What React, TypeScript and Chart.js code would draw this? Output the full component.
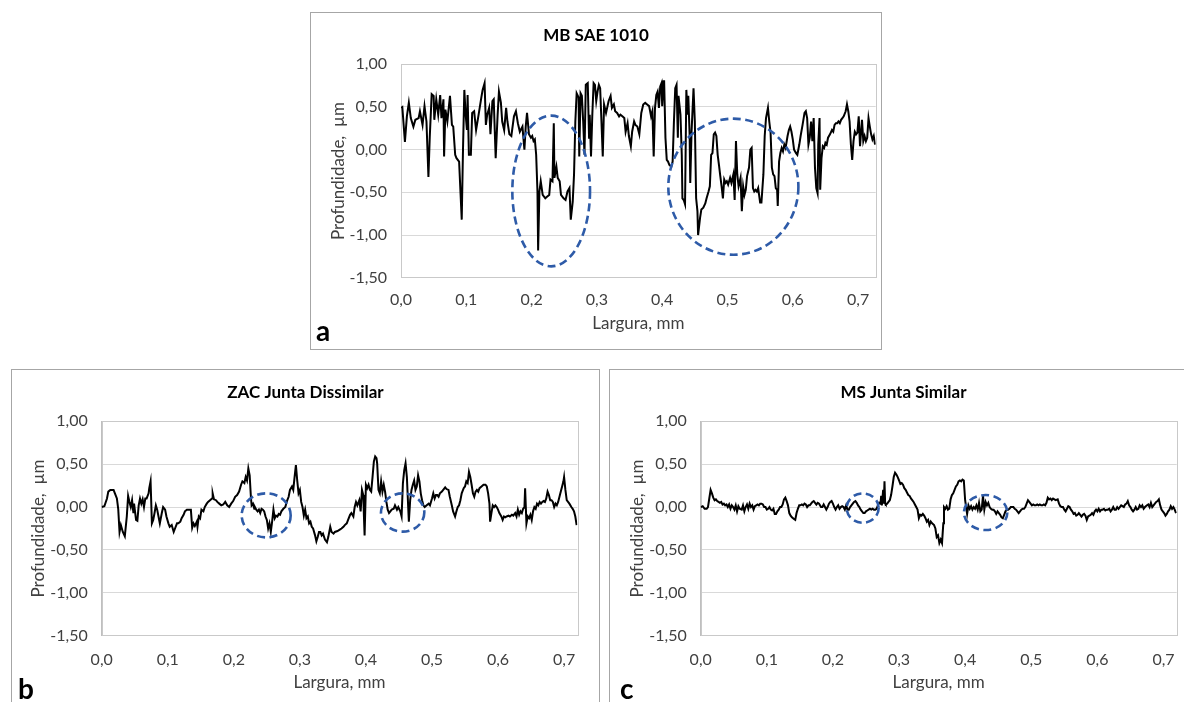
import React, { useEffect, useRef } from "react";
import { Chart, registerables } from "chart.js";

Chart.register(...registerables);

const FONT = "Lato, 'Open Sans', sans-serif";

// ---------------- data (width in mm, depth in µm) ----------------
const mbWidth = [
  0,0.002,0.006,0.009,0.012,0.015,0.019,0.022,0.027,0.029,
  0.033,0.036,0.039,0.042,0.044,0.047,0.050,0.051,0.054,0.057,
  0.060,0.062,0.065,0.066,0.068,0.071,0.075,0.078,0.080,0.083,
  0.085,0.089,0.093,0.095,0.097,0.099,0.101,0.102,0.104,0.107,
  0.109,0.112,0.115,0.118,0.123,0.125,0.128,0.130,0.132,0.135,
  0.137,0.140,0.142,0.145,0.148,0.150,0.153,0.155,0.158,0.161,
  0.163,0.166,0.169,0.173,0.176,0.179,0.182,0.186,0.189,0.191,
  0.193,0.196,0.199,0.201,0.203,0.205,0.207,0.209,0.210,0.212,
  0.214,0.217,0.221,0.224,0.227,0.229,0.232,0.234,0.235,0.238,
  0.240,0.243,0.245,0.249,0.252,0.255,0.258,0.260,0.263,0.265,
  0.267,0.269,0.272,0.273,0.275,0.277,0.279,0.281,0.283,0.286,
  0.288,0.289,0.291,0.293,0.295,0.297,0.299,0.301,0.303,0.305,
  0.307,0.309,0.311,0.314,0.318,0.321,0.323,0.326,0.328,0.331,
  0.334,0.336,0.339,0.342,0.344,0.347,0.349,0.352,0.354,0.357,
  0.359,0.362,0.365,
  0.368,0.371,0.374,0.377,0.380,0.383,0.385,0.387,0.389,0.391,
  0.393,0.395,0.397,0.399,0.400,0.402,0.403,0.405,0.407,0.409,
  0.411,0.414,0.416,0.418,0.420,0.422,0.424,0.425,0.428,0.430,
  0.431,0.433,0.435,0.437,0.439,0.440,0.442,0.443,0.445,0.448,
  0.450,0.452,0.454,0.455,0.458,0.460,0.463,0.466,0.468,0.471,
  0.473,0.475,0.477,0.479,0.481,0.483,0.485,0.487,0.489,0.491,
  0.493,0.495,0.497,0.499,0.501,0.504,0.506,0.509,0.511,0.513,
  0.515,0.517,0.520,0.522,0.524,0.526,0.528,0.530,0.533,0.535,
  0.537,0.539,0.541,0.543,0.545,0.547,0.550,0.552,0.555,0.557,
  0.559,0.562,0.564,0.566,0.568,0.570,0.572,0.574,0.576,0.577,
  0.579,0.581,0.583,0.585,0.587,0.589,0.592,0.594,0.596,0.598,
  0.600,0.602,0.605,0.607,0.610,0.612,0.615,0.618,0.620,0.622,
  0.624,0.626,0.628,0.630,0.632,0.634,0.636,0.638,0.639,0.641,
  0.642,0.644,0.646,0.648,0.650,0.652,0.654,0.657,0.660,0.662,
  0.664,0.666,0.668,0.670,0.672,0.674,0.676,0.678,0.681,0.683,
  0.685,0.687,0.689,0.691,0.693,0.695,0.697,0.699,0.701,0.703,
  0.706,0.708,0.710,0.712,0.714,0.716,0.718,0.720,0.722,0.724,
  0.726,
];
const mbDepth = [
  0.49,0.50,0.09,0.39,0.55,0.37,0.27,0.35,0.37,0.45,
  0.29,0.51,0.33,-0.32,0.14,0.65,0.63,0.35,0.59,0.41,
  0.64,0.37,0.59,-0.08,0.47,0.33,0.63,0.29,0.27,-0.06,
  -0.10,-0.14,-0.82,0.02,0.70,0.41,0.23,0.64,-0.06,-0.06,
  0.43,0.45,0.23,0.37,0.61,0.70,0.78,0.29,0.41,0.49,
  0.18,0.57,0.59,-0.10,0.41,0.68,0.55,0.33,0.23,0.49,
  0.33,0.18,0.16,0.39,0.45,0.31,0.21,0.27,0.00,0.27,
  0.43,0.18,0.14,0.16,0.10,0.12,-0.06,-0.49,-1.18,-0.49,
  -0.37,-0.53,-0.57,-0.55,-0.53,-0.35,-0.37,0.31,-0.33,-0.20,
  -0.33,-0.37,-0.53,-0.57,-0.59,-0.49,-0.45,-0.82,-0.61,-0.29,
  0.33,0.66,0.61,-0.08,0.66,0.63,0.33,-0.06,0.76,0.78,
  0.14,0.41,-0.08,0.41,0.78,0.76,0.57,0.68,0.76,0.72,
  0.33,-0.08,0.53,0.43,0.57,0.63,0.49,0.53,0.45,0.43,
  0.39,0.41,0.39,0.37,0.21,0.31,0.16,0.04,0.21,0.33,
  0.29,0.27,0.18,
  0.43,0.53,0.55,0.53,0.51,0.39,0.45,-0.08,0.49,0.64,
  0.68,0.49,0.74,0.78,0.51,0.80,0.80,0.14,-0.12,-0.14,
  -0.18,-0.20,-0.14,0.33,0.72,0.76,0.14,0.63,0.41,-0.06,
  -0.57,-0.59,-0.64,0.70,0.41,0.63,0.18,-0.39,0.21,0.72,
  0.33,-0.57,-0.72,-1.00,-0.80,-0.70,-0.68,-0.63,-0.57,-0.49,
  -0.43,-0.06,-0.04,0.18,0.20,0.16,-0.06,-0.18,-0.31,-0.43,
  -0.57,-0.35,-0.39,-0.37,-0.41,-0.33,-0.39,-0.29,-0.59,0.10,
  -0.29,-0.43,-0.33,-0.72,-0.43,-0.53,-0.47,-0.31,-0.21,0.00,
  0.02,-0.45,-0.49,-0.47,-0.49,-0.45,-0.62,-0.62,-0.29,0.16,
  0.37,0.49,0.33,0.20,-0.21,-0.29,-0.31,-0.45,-0.47,-0.66,
  -0.14,-0.04,0.02,-0.02,0.06,0.02,0.16,0.23,0.27,0.21,
  0.12,0.00,-0.04,-0.06,0.06,0.16,0.29,0.43,0.45,0.37,
  0.06,0.14,0.33,0.10,0.37,-0.21,-0.45,-0.51,0.06,0.37,
  -0.47,-0.10,0.04,0.02,0.08,0.06,0.14,0.18,0.23,0.21,
  0.29,0.31,0.31,0.33,0.31,0.35,0.37,0.39,0.45,0.53,
  0.45,0.33,0.06,-0.12,0.10,0.21,0.18,0.20,0.39,0.04,
  0.35,0.10,0.16,0.10,0.14,0.37,0.27,0.18,0.12,0.16,
  0.06,
];

const zacWidth = [
  0,0.004,0.008,0.010,0.013,0.018,0.020,0.023,0.025,0.027,
  0.029,0.032,0.035,0.038,0.040,0.042,0.044,0.046,0.048,0.049,
  0.052,0.054,0.056,0.058,0.060,0.062,0.064,0.066,0.068,0.071,
  0.072,0.074,0.076,0.078,0.080,0.082,0.084,0.086,0.088,0.091,
  0.093,0.096,0.098,0.101,0.103,0.106,0.109,0.111,0.114,0.116,
  0.119,0.121,0.124,0.126,0.129,0.132,0.135,0.137,0.139,0.141,
  0.144,0.145,0.147,0.149,0.151,0.154,0.156,0.159,0.161,0.164,
  0.167,0.168,0.170,0.173,0.175,0.178,0.181,0.184,0.187,0.190,
  0.193,0.196,0.199,0.202,0.205,0.208,0.211,0.213,0.216,0.218,
  0.220,0.222,0.224,0.226,0.227,0.229,0.231,0.232,0.234,0.236,
  0.238,0.240,0.242,0.244,0.246,0.248,0.250,0.252,0.254,0.256,
  0.258,0.260,0.262,0.264,0.266,0.268,0.270,0.272,0.275,0.278,
  0.280,0.283,0.285,0.288,0.290,0.292,0.294,0.296,0.298,0.300,
  0.302,0.304,0.306,0.308,0.310,0.312,0.314,0.316,0.318,0.320,
  0.323,0.325,0.327,0.329,0.331,0.333,0.335,0.338,0.341,0.343,
  0.346,0.348,0.351,0.353,0.357,0.361,
  0.363,0.366,0.368,0.371,0.373,0.376,0.378,0.381,0.383,0.385,
  0.387,0.390,0.392,0.394,0.396,0.397,0.398,0.400,0.402,0.404,
  0.406,0.408,0.410,0.412,0.414,0.416,0.417,0.419,0.421,0.423,
  0.425,0.427,0.429,0.431,0.433,0.435,0.437,0.439,0.442,0.444,
  0.447,0.449,0.452,0.454,0.456,0.458,0.460,0.462,0.464,0.465,
  0.467,0.469,0.471,0.473,0.475,0.477,0.479,0.481,0.483,0.485,
  0.487,0.489,0.492,0.495,0.497,0.500,0.502,0.504,0.506,0.508,
  0.510,0.512,0.515,0.517,0.520,0.522,0.525,0.527,0.530,0.532,
  0.535,0.537,0.539,0.541,0.543,0.545,0.548,0.550,0.552,0.554,
  0.556,0.558,0.560,0.562,0.564,0.566,0.568,0.570,0.572,0.575,
  0.578,0.581,0.583,0.585,0.587,0.588,0.590,0.592,0.594,0.596,
  0.598,0.600,0.602,0.605,0.607,0.609,0.611,0.613,0.616,0.618,
  0.621,0.623,0.626,0.628,0.630,0.632,0.634,0.636,0.638,0.640,
  0.641,0.643,0.645,0.647,0.649,0.651,0.653,0.655,0.657,0.659,
  0.661,0.663,0.665,0.667,0.669,0.671,0.673,0.675,0.677,0.679,
  0.681,0.683,0.685,0.687,0.689,0.691,0.693,0.695,0.697,0.699,
  0.700,0.702,0.704,0.706,0.708,0.711,0.713,0.715,0.717,0.719,
];
const zacDepth = [
  0.00,0.01,0.10,0.18,0.20,0.20,0.16,0.10,-0.02,-0.29,
  -0.21,-0.29,-0.34,-0.11,0.13,0.06,0.00,0.08,-0.07,0.04,
  -0.15,-0.16,0.02,0.10,0.04,0.09,0.00,0.10,0.10,0.16,
  0.22,0.30,-0.19,-0.15,-0.07,0.02,-0.03,-0.11,-0.19,-0.07,
  0.00,-0.03,-0.11,-0.19,-0.23,-0.21,-0.29,-0.25,-0.19,-0.19,
  -0.17,-0.13,-0.09,-0.05,-0.03,-0.03,-0.03,-0.24,-0.19,-0.22,
  -0.17,-0.23,-0.11,-0.13,-0.03,-0.05,0.00,0.04,0.06,0.08,
  0.10,0.16,0.09,0.08,0.06,0.04,0.02,0.03,0.06,0.02,
  0.00,0.04,0.07,0.12,0.14,0.18,0.26,0.30,0.28,0.35,
  0.31,0.45,0.37,0.10,0.02,0.04,-0.02,0.00,-0.03,-0.05,
  -0.03,-0.07,-0.02,-0.03,-0.05,-0.11,-0.15,-0.25,-0.19,-0.29,
  -0.17,-0.03,-0.13,-0.10,-0.11,-0.08,-0.09,-0.05,-0.02,0.00,
  0.06,0.12,0.20,0.24,0.20,0.35,0.49,0.31,0.16,0.20,
  0.06,0.00,-0.10,-0.03,-0.13,-0.11,-0.19,-0.17,-0.23,-0.25,
  -0.33,-0.40,-0.35,-0.29,-0.29,-0.33,-0.31,-0.38,-0.41,-0.35,
  -0.23,-0.29,-0.31,-0.29,-0.28,-0.26,
  -0.25,-0.23,-0.21,-0.19,-0.15,-0.09,-0.07,-0.11,0.00,0.06,
  0.02,0.08,-0.05,0.20,0.14,-0.11,-0.33,0.26,0.22,0.26,
  0.20,0.18,0.35,0.53,0.59,0.57,0.51,0.20,0.16,0.30,
  0.18,0.26,0.18,0.06,-0.03,-0.07,-0.05,-0.03,-0.02,0.02,
  -0.03,0.00,-0.05,-0.11,0.28,0.43,0.51,0.35,0.00,-0.17,
  0.08,0.20,0.26,0.31,0.20,0.24,0.37,0.30,0.16,0.08,
  0.02,0.00,0.02,0.04,0.02,0.10,0.16,0.10,0.14,0.14,
  0.12,0.16,0.18,0.20,0.23,0.21,0.20,0.12,0.02,-0.05,
  -0.11,-0.05,0.00,0.02,0.08,0.16,0.22,0.24,0.30,0.28,
  0.41,0.35,0.26,0.16,0.12,0.18,0.20,0.18,0.22,0.24,
  0.26,0.26,0.24,0.16,0.04,-0.17,-0.07,0.02,0.00,0.02,
  0.00,-0.03,-0.07,-0.11,-0.15,-0.11,-0.12,-0.11,-0.10,-0.11,
  -0.09,-0.10,-0.07,-0.11,-0.03,-0.09,-0.05,-0.07,-0.02,0.00,
  0.22,-0.19,-0.11,-0.13,-0.09,-0.15,-0.05,0.00,-0.02,0.04,
  0.02,0.06,0.04,0.06,0.07,0.06,0.10,0.18,0.14,0.08,
  0.08,0.06,0.00,0.04,0.02,0.06,0.12,0.18,0.24,0.30,
  0.35,0.20,0.08,0.06,0.04,0.00,-0.02,-0.05,-0.11,-0.21,
];

const msWidth = [
  0,0.003,0.006,0.009,0.011,0.013,0.015,0.017,0.019,0.021,
  0.023,0.025,0.027,0.029,0.031,0.033,0.035,0.037,0.039,0.041,
  0.043,0.045,0.047,0.049,0.051,0.053,0.055,0.057,0.059,0.062,
  0.064,0.066,0.068,0.070,0.072,0.074,0.076,0.078,0.080,0.082,
  0.084,0.086,0.088,0.090,0.092,0.094,0.096,0.098,0.100,0.102,
  0.104,0.106,0.108,0.110,0.112,0.114,0.116,0.118,0.120,0.122,
  0.124,0.126,0.128,0.130,0.132,0.134,0.136,0.138,0.141,0.143,
  0.145,0.147,0.149,0.151,0.153,0.155,0.157,0.159,0.161,0.163,
  0.165,0.167,0.169,0.171,0.173,0.175,0.177,0.179,0.182,0.184,
  0.186,0.188,0.190,0.192,0.194,0.196,0.198,0.200,0.202,0.204,
  0.206,0.208,0.210,0.212,0.214,0.216,0.218,0.220,0.222,0.224,
  0.226,0.228,0.230,0.232,0.234,0.236,0.238,0.240,0.242,0.244,
  0.246,0.248,0.250,0.252,0.254,0.256,0.258,0.260,0.262,0.264,
  0.266,0.268,0.270,0.272,0.273,0.274,0.276,0.277,0.278,0.279,
  0.280,0.282,0.284,0.286,0.288,0.290,0.292,0.294,0.296,0.298,
  0.300,0.302,0.304,0.306,0.308,0.310,0.312,0.314,0.316,0.318,
  0.320,0.322,0.324,0.326,0.328,0.330,0.332,0.334,0.336,0.338,
  0.340,0.342,0.344,0.346,0.348,0.350,
  0.353,0.355,0.357,0.359,0.361,0.363,0.365,0.367,0.368,0.370,
  0.372,0.374,0.376,0.378,0.380,0.382,0.384,0.386,0.388,0.390,
  0.392,0.394,0.396,0.398,0.400,0.402,0.403,0.405,0.407,0.409,
  0.411,0.413,0.415,0.417,0.419,0.421,0.423,0.425,0.427,0.429,
  0.431,0.433,0.435,0.437,0.439,0.441,0.443,0.445,0.447,0.449,
  0.451,0.453,0.455,0.457,0.459,0.461,0.463,0.465,0.467,0.469,
  0.471,0.473,0.475,0.477,0.479,0.481,0.483,0.485,0.487,0.489,
  0.491,0.493,0.495,0.497,0.499,0.501,0.503,0.505,0.507,0.509,
  0.511,0.513,0.515,0.517,0.519,0.521,0.523,0.525,0.527,0.529,
  0.531,0.533,0.535,0.537,0.540,0.542,0.544,0.546,0.548,0.550,
  0.552,0.554,0.556,0.558,0.560,0.562,0.564,0.566,0.568,0.570,
  0.572,0.574,0.576,0.578,0.580,0.582,0.584,0.586,0.588,0.590,
  0.592,0.594,0.596,0.598,0.600,0.602,0.604,0.606,0.608,0.610,
  0.612,0.614,0.616,0.618,0.620,0.622,0.624,0.626,0.628,0.630,
  0.632,0.634,0.636,0.638,0.640,0.642,0.644,0.646,0.648,0.650,
  0.652,0.654,0.656,0.658,0.660,0.662,0.664,0.666,0.668,0.670,
  0.672,0.675,0.677,0.679,0.681,0.683,0.685,0.687,0.689,0.691,
  0.693,0.695,0.697,0.699,0.701,0.703,0.705,0.707,0.709,0.711,
  0.713,0.715,0.717,0.719,
];
const msDepth = [
  0.00,0.01,-0.02,-0.02,0.00,0.10,0.20,0.16,0.11,0.08,
  0.09,0.07,0.06,0.05,0.06,0.03,0.04,0.02,0.03,0.00,
  0.03,-0.02,0.02,0.00,-0.03,0.02,-0.05,0.01,-0.02,-0.03,
  0.02,-0.05,0.00,0.03,-0.02,0.04,0.00,0.02,-0.03,0.01,
  0.02,0.03,0.02,0.04,0.04,0.03,0.00,0.00,-0.03,-0.02,
  0.00,-0.03,-0.04,-0.02,-0.08,-0.08,-0.05,-0.03,0.00,0.00,
  0.03,0.09,0.11,0.07,0.02,-0.07,-0.10,-0.12,-0.14,-0.15,
  -0.07,-0.02,0.02,0.02,0.03,0.02,0.04,0.03,0.00,0.02,
  0.02,0.04,0.06,0.07,0.05,0.03,0.05,0.04,0.00,0.00,
  0.03,0.00,-0.03,0.00,0.04,0.06,0.07,0.04,0.00,-0.03,
  0.00,0.02,-0.02,0.00,0.01,0.00,-0.03,0.02,-0.03,-0.03,
  0.00,0.02,0.04,0.06,0.07,0.05,0.02,0.00,-0.03,-0.05,
  -0.07,-0.07,-0.05,-0.04,-0.03,-0.02,-0.03,-0.02,-0.03,-0.03,
  -0.02,0.02,0.05,0.04,0.13,0.02,0.20,0.04,0.30,0.04,
  0.03,0.04,0.06,0.08,0.14,0.24,0.35,0.40,0.38,0.35,
  0.31,0.27,0.28,0.26,0.22,0.20,0.17,0.14,0.13,0.10,
  0.08,0.06,0.03,0.00,-0.03,-0.13,-0.09,-0.10,-0.08,-0.10,
  -0.13,-0.17,-0.15,-0.21,-0.17,-0.19,
  -0.21,-0.25,-0.35,-0.33,-0.42,-0.38,-0.42,-0.19,0.00,-0.02,
  0.01,-0.03,-0.02,0.09,0.14,0.16,0.20,0.24,0.26,0.30,
  0.31,0.30,0.32,0.31,0.08,-0.03,-0.08,0.02,-0.02,0.01,
  -0.03,0.00,-0.02,0.02,-0.03,0.05,-0.05,-0.03,0.13,-0.03,
  0.06,0.02,0.05,0.00,-0.02,-0.03,-0.03,-0.05,-0.08,-0.05,
  -0.07,-0.09,-0.12,-0.13,-0.09,-0.05,-0.03,-0.03,-0.02,0.00,
  0.00,0.00,-0.02,-0.03,-0.05,-0.07,-0.05,-0.03,-0.02,-0.02,
  0.00,0.04,0.08,0.06,0.04,0.02,0.03,0.02,0.02,0.03,
  0.02,0.03,0.02,0.02,0.03,0.02,0.05,0.11,0.09,0.10,
  0.08,0.10,0.09,0.08,0.09,0.04,0.01,0.00,0.00,-0.03,
  -0.05,-0.02,0.01,0.00,-0.03,-0.05,-0.08,-0.07,-0.10,-0.09,
  -0.07,-0.09,-0.11,-0.09,-0.08,-0.10,-0.15,-0.11,-0.10,-0.09,
  -0.07,-0.09,-0.05,-0.03,-0.05,-0.02,-0.05,-0.03,-0.03,-0.02,
  -0.04,-0.03,-0.03,-0.02,-0.05,-0.03,0.00,-0.03,-0.03,0.00,
  -0.02,0.00,0.02,0.01,0.00,0.03,0.04,0.07,0.02,0.00,
  -0.03,-0.05,-0.03,0.00,-0.03,-0.02,0.02,0.00,0.02,-0.02,
  0.00,0.02,0.03,0.00,0.05,0.00,0.02,0.04,0.06,0.07,
  0.09,0.02,-0.03,-0.05,-0.07,-0.10,-0.08,-0.05,-0.03,0.01,
  -0.02,0.00,-0.03,-0.07,
];

// highlighted zones: [centre width, centre depth, half width, half depth]
const mbRings = [[0.230, -0.484, 0.0595, 0.883], [0.509, -0.434, 0.0996, 0.797]];
const zacRings = [[0.249, -0.097, 0.0371, 0.257], [0.4556, -0.064, 0.0328, 0.223]];
const msRings = [[0.245, -0.012, 0.0242, 0.171], [0.431, -0.064, 0.0328, 0.204]];

const depthTicks = [-1.5, -1.0, -0.5, 0, 0.5, 1.0];
const widthTicks = [0, 0.1, 0.2, 0.3, 0.4, 0.5, 0.6, 0.7];

const xTitle = "Largura, mm";
const yTitle = "Profundidade,  µm";

// ---------------- layout ----------------
type Spec = {
  title: string;
  letter: string;
  xs: number[];
  ys: number[];
  xMax: number;
  rings: number[][];
  box: { left: number; top: number; width: number; height: number };
  canvasW: number;
  canvasH: number;
  plot: { l: number; r: number; t: number; b: number };
  yTitleX: number;
  xTickY: number;
  xTitleY: number;
  letterAt: [number, number];
};

const panels: Spec[] = [
  {
    title: "MB SAE 1010", letter: "a", xs: mbWidth, ys: mbDepth, xMax: 0.727, rings: mbRings,
    box: { left: 310, top: 12, width: 572, height: 338 }, canvasW: 570, canvasH: 336,
    plot: { l: 90, r: 564.7, t: 51.3, b: 264.7 }, yTitleX: 27.3, xTickY: 286.5, xTitleY: 311, letterAt: [5, 328],
  },
  {
    title: "ZAC Junta Dissimilar", letter: "b", xs: zacWidth, ys: zacDepth, xMax: 0.72, rings: zacRings,
    box: { left: 11, top: 369, width: 589, height: 345 }, canvasW: 587, canvasH: 340,
    plot: { l: 89.7, r: 565.3, t: 51.3, b: 265.7 }, yTitleX: 26.8, xTickY: 290, xTitleY: 313, letterAt: [6, 329],
  },
  {
    title: "MS Junta Similar", letter: "c", xs: msWidth, ys: msDepth, xMax: 0.72, rings: msRings,
    box: { left: 609, top: 369, width: 589, height: 345 }, canvasW: 587, canvasH: 340,
    plot: { l: 90.7, r: 566.7, t: 51.3, b: 265.7 }, yTitleX: 27.8, xTickY: 290, xTitleY: 313, letterAt: [10, 329],
  },
];

const TITLE_SIZE = 17;
const AXIS_SIZE = 17;
const TICK_SIZE = 16;

function Panel({ spec }: { spec: Spec }) {
  const ref = useRef<HTMLCanvasElement | null>(null);

  useEffect(() => {
    const canvas = ref.current;
    if (!canvas) return;
    const s = spec;
    const pad = s.canvasW - s.plot.r;
    const yW = s.plot.l - pad;
    const xH = s.canvasH - s.plot.b;
    const titleLH = TITLE_SIZE * 1.2;
    const titleTop = 22.5 - titleLH / 2;
    const titleBottom = s.plot.t - titleTop - titleLH;
    const axisLH = AXIS_SIZE * 1.2;
    const tickLH = (2 * (s.xTickY - s.plot.b)) / TICK_SIZE;

    const n = Math.min(s.xs.length, s.ys.length);
    const points = [];
    for (let i = 0; i < n; i++) points.push({ x: s.xs[i], y: s.ys[i] });

    const frame = {
      id: "frame",
      beforeDatasetsDraw(chart: any) {
        const { ctx, chartArea: a } = chart;
        ctx.save();
        ctx.strokeStyle = "#c9c9c9";
        ctx.lineWidth = 1;
        ctx.strokeRect(Math.round(a.left) + 0.5, Math.round(a.top) + 0.5, Math.round(a.right - a.left), Math.round(a.bottom - a.top));
        ctx.restore();
      },
    };
    const rings = {
      id: "rings",
      afterDatasetsDraw(chart: any) {
        const { ctx, scales } = chart;
        const x = scales.x, y = scales.y;
        ctx.save();
        ctx.strokeStyle = "#2E5BA8";
        ctx.lineWidth = 2.6;
        ctx.setLineDash([8, 4.5]);
        for (const [cx, cy, rx, ry] of s.rings) {
          const px = x.getPixelForValue(cx);
          const py = y.getPixelForValue(cy);
          const prx = Math.abs(x.getPixelForValue(cx + rx) - px);
          const pry = Math.abs(y.getPixelForValue(cy + ry) - py);
          ctx.beginPath();
          ctx.ellipse(px, py, prx, pry, 0, 0, Math.PI * 2);
          ctx.stroke();
        }
        ctx.restore();
      },
    };
    const letter = {
      id: "letter",
      afterDraw(chart: any) {
        const ctx = chart.ctx;
        ctx.save();
        ctx.font = `bold 28px ${FONT}`;
        ctx.fillStyle = "#000";
        ctx.textBaseline = "alphabetic";
        ctx.textAlign = "left";
        ctx.fillText(s.letter, s.letterAt[0], s.letterAt[1]);
        ctx.restore();
      },
    };

    const chart = new Chart(canvas, {
      type: "line",
      data: {
        datasets: [
          {
            data: points,
            borderColor: "#000",
            borderWidth: 2,
            pointRadius: 0,
            tension: 0,
            fill: false,
          },
        ],
      },
      options: {
        responsive: false,
        animation: false,
        events: [],
        layout: { padding: { left: pad, right: pad, top: 0, bottom: 0 } },
        plugins: {
          legend: { display: false },
          tooltip: { enabled: false },
          title: {
            display: true,
            text: s.title,
            color: "#000",
            font: { family: FONT, size: TITLE_SIZE, weight: "bold" },
            padding: { top: titleTop, bottom: titleBottom },
          },
        },
        scales: {
          x: {
            type: "linear",
            min: 0,
            max: s.xMax,
            grid: { display: false, drawTicks: false },
            border: { display: true, color: "#bfbfbf" },
            afterBuildTicks: (sc: any) => {
              sc.ticks = widthTicks.filter((v) => v <= s.xMax + 1e-9).map((v) => ({ value: v }));
            },
            afterFit: (sc: any) => {
              sc.height = xH;
            },
            ticks: {
              padding: 0,
              maxRotation: 0,
              autoSkip: false,
              color: "#404040",
              font: { family: FONT, size: TICK_SIZE, lineHeight: tickLH },
              callback: (v: any) => Number(v).toFixed(1).replace(".", ","),
            },
            title: {
              display: true,
              text: xTitle,
              color: "#404040",
              font: { family: FONT, size: AXIS_SIZE },
              padding: { top: 0, bottom: s.canvasH - s.xTitleY - axisLH / 2 },
            },
          },
          y: {
            type: "linear",
            min: -1.5,
            max: 1,
            grid: { color: "#d9d9d9", drawTicks: false },
            border: { display: true, color: "#bfbfbf" },
            afterBuildTicks: (sc: any) => {
              sc.ticks = depthTicks.map((v) => ({ value: v }));
            },
            afterFit: (sc: any) => {
              sc.width = yW;
            },
            ticks: {
              padding: 14,
              color: "#404040",
              font: { family: FONT, size: TICK_SIZE },
              callback: (v: any) => Number(v).toFixed(2).replace(".", ","),
            },
            title: {
              display: true,
              text: yTitle,
              color: "#404040",
              font: { family: FONT, size: AXIS_SIZE },
              padding: { top: s.yTitleX - pad - axisLH / 2, bottom: 0 },
            },
          },
        },
      },
      plugins: [frame, rings, letter],
    } as any);

    return () => chart.destroy();
  }, [spec]);

  return (
    <div
      style={{
        position: "absolute",
        left: spec.box.left,
        top: spec.box.top,
        width: spec.box.width,
        height: spec.box.height,
        border: "1px solid #a6a6a6",
        boxSizing: "border-box",
        background: "#fff",
      }}
    >
      <canvas
        ref={ref}
        width={spec.canvasW}
        height={spec.canvasH}
        style={{ position: "absolute", left: 0, top: 0, width: spec.canvasW, height: spec.canvasH }}
      />
    </div>
  );
}

export default function App() {
  return (
    <div
      style={{
        position: "absolute",
        left: 0,
        top: 0,
        width: 1184,
        height: 702,
        overflow: "hidden",
        background: "#fff",
      }}
    >
      {panels.map((p) => (
        <Panel key={p.letter} spec={p} />
      ))}
    </div>
  );
}
